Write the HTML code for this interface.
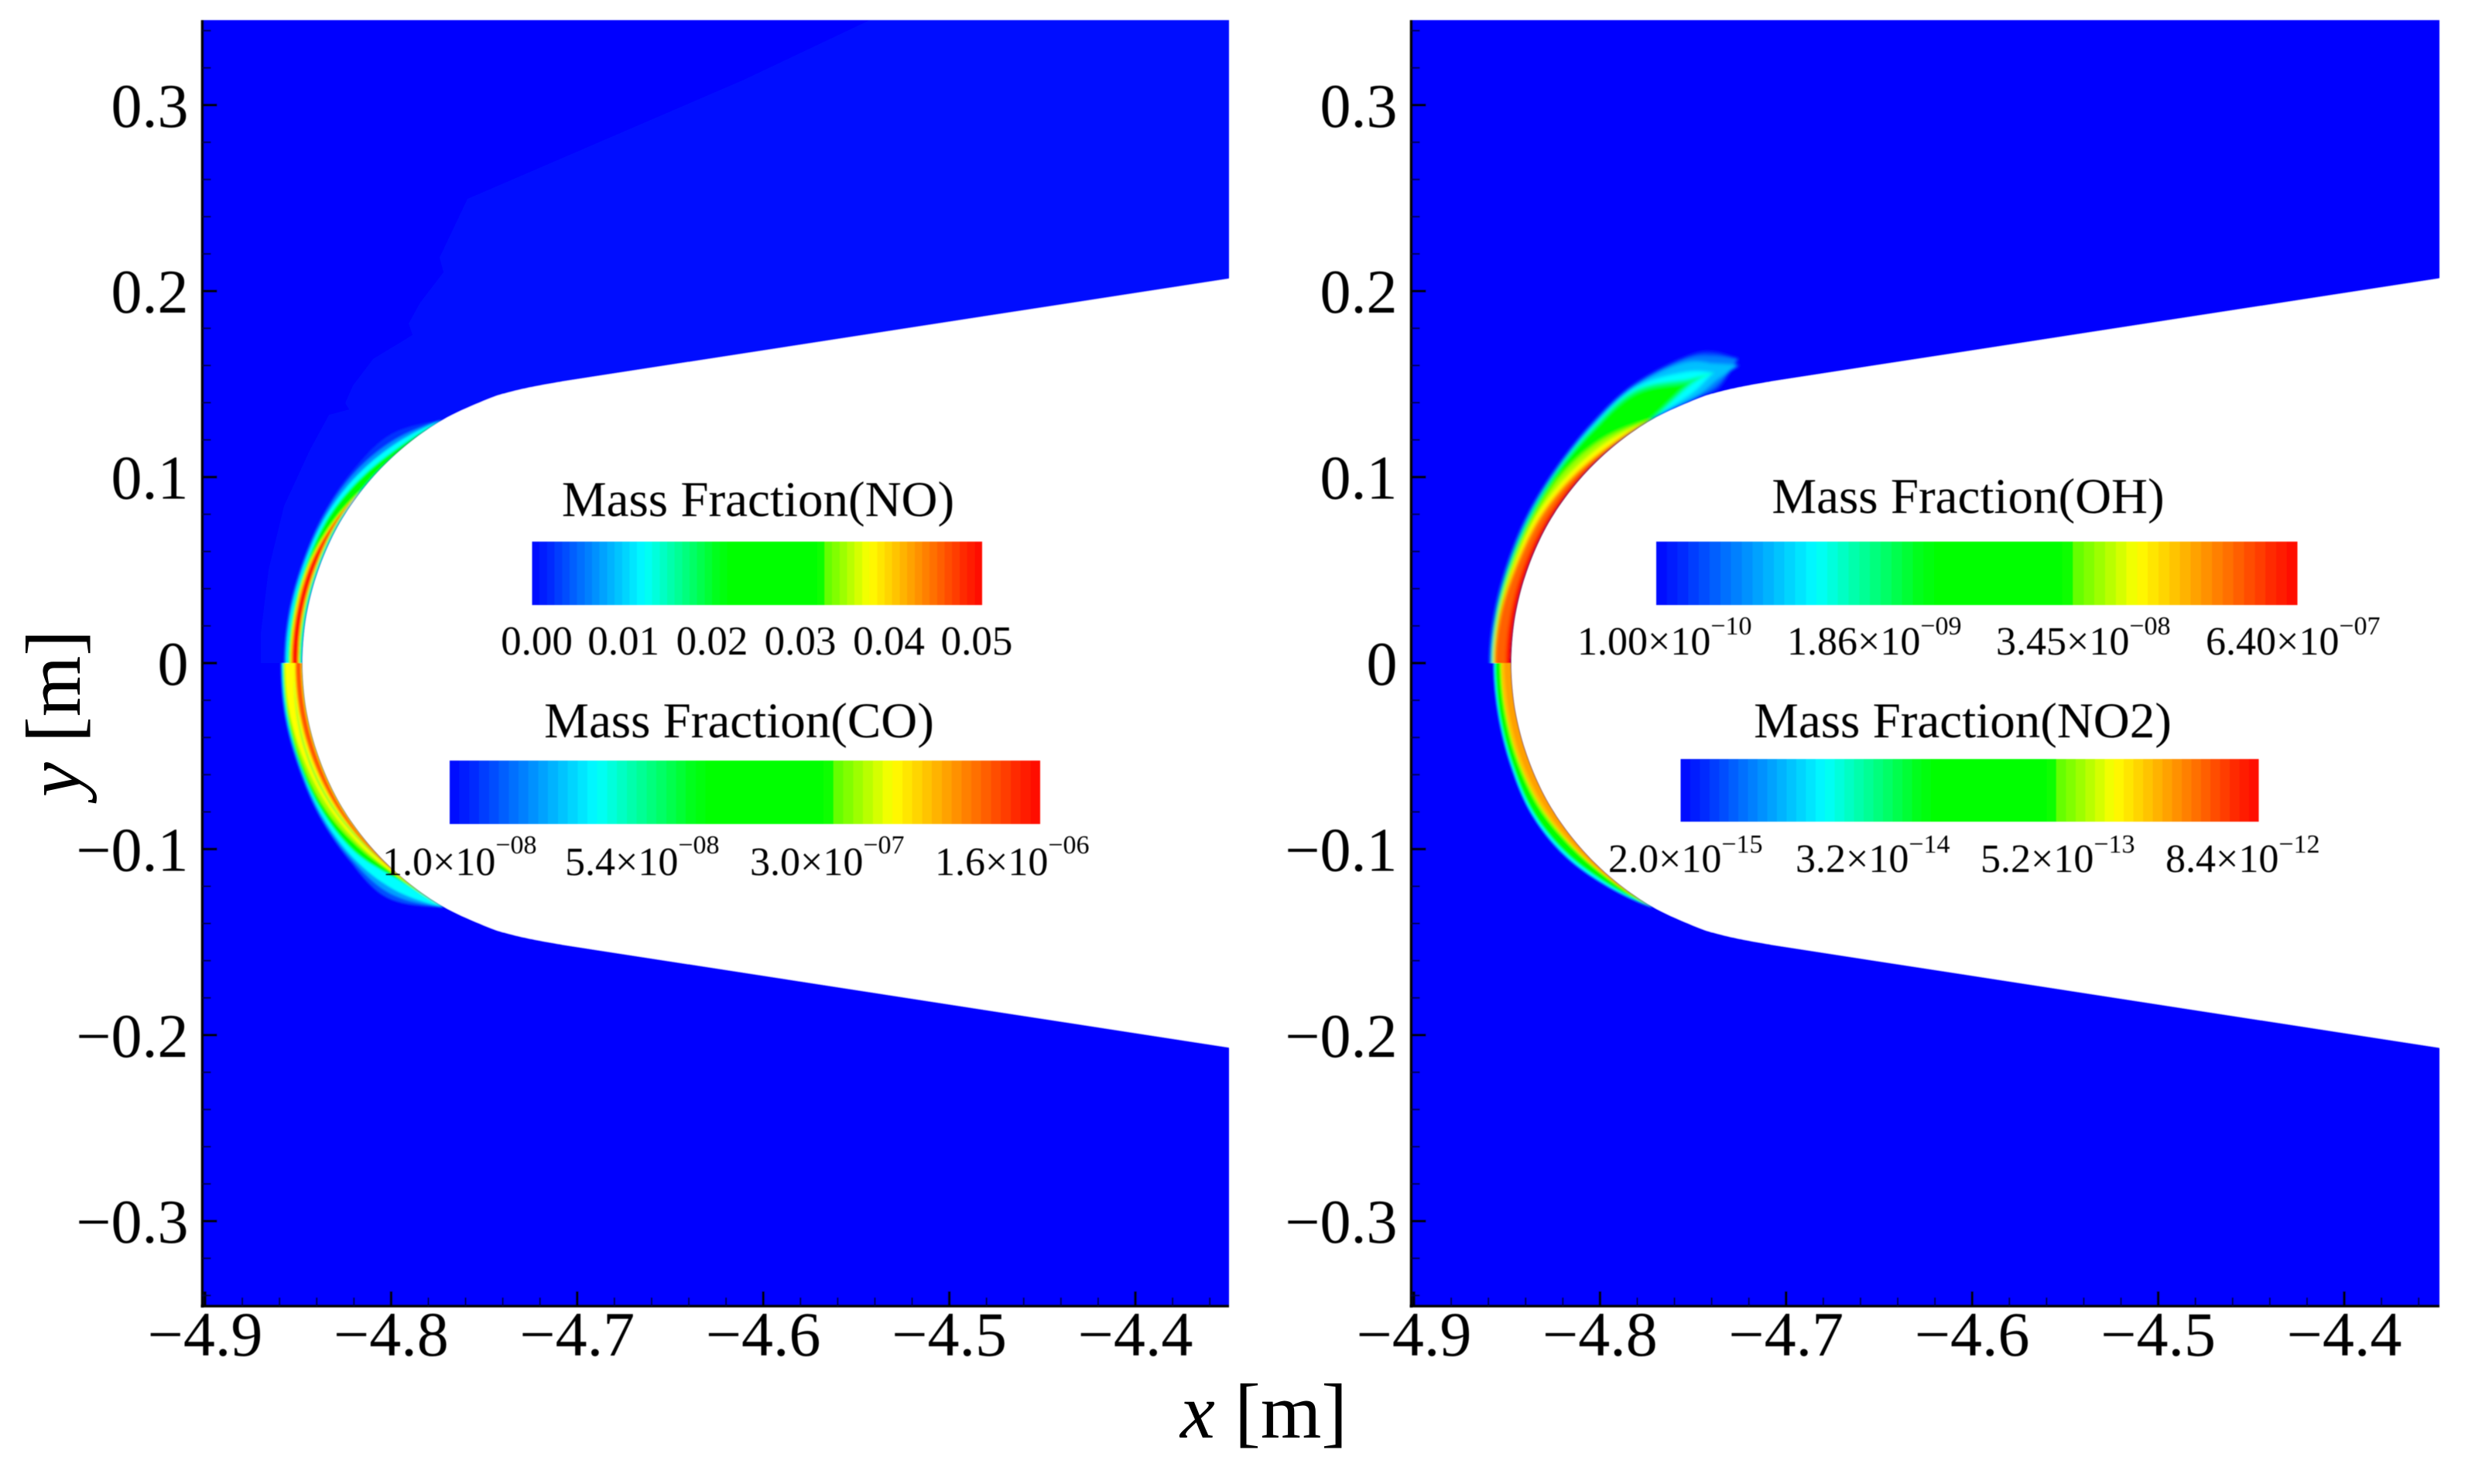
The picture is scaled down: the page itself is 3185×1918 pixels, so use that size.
<!DOCTYPE html>
<html lang="en">
<head>
<meta charset="utf-8">
<title>Mass fraction contours around a blunt body</title>
<style>
html,body{margin:0;padding:0;background:#fff;}
svg{display:block;font-family:"Liberation Serif",serif;fill:#000;}
.x-tick-text{font-size:82px;}
.y-tick-text{font-size:80px;}
.legend-title{font-size:65px;text-anchor:middle;}
.legend-label{font-size:53px;text-anchor:middle;}
.legend-sci{font-size:52px;}
.exp{font-size:34px;}
.axis-title{font-size:101px;}
</style>
</head>
<body>
<svg id="chart" xmlns="http://www.w3.org/2000/svg" width="3185" height="1918" viewBox="0 0 3185 1918">
  <defs>
    <linearGradient id="rainbow"></linearGradient>
    <filter id="bandBlur" filterUnits="userSpaceOnUse" x="0" y="0" width="3185" height="1918"><feGaussianBlur stdDeviation="1.3"/></filter>
    <filter id="bandBlurWide" filterUnits="userSpaceOnUse" x="0" y="0" width="3185" height="1918"><feGaussianBlur stdDeviation="2.2"/></filter>
    <filter id="softBlur" filterUnits="userSpaceOnUse" x="0" y="0" width="3185" height="1918"><feGaussianBlur stdDeviation="0.6"/></filter>
    <clipPath id="clip-left-full"><rect x="263" y="26" width="1325" height="1661"/></clipPath>
    <clipPath id="clip-left-upper"><rect x="263" y="26" width="1325" height="831"/></clipPath>
    <clipPath id="clip-left-lower"><rect x="263" y="857" width="1325" height="830"/></clipPath>
    <clipPath id="clip-right-full"><rect x="1825" y="26" width="1327" height="1661"/></clipPath>
    <clipPath id="clip-right-upper"><rect x="1825" y="26" width="1327" height="831"/></clipPath>
    <clipPath id="clip-right-lower"><rect x="1825" y="857" width="1327" height="830"/></clipPath>
  </defs>

  <g id="plots" filter="url(#softBlur)"></g>

  <g filter="url(#softBlur)">
    <text class="legend-title" x="979.5" y="667">Mass Fraction(NO)</text>
    <rect x="687.5" y="700" width="581.5" height="82" fill="url(#rainbow)"/>
    <text class="legend-label" x="693.5" y="846">0.00</text>
    <text class="legend-label" x="805.6" y="846">0.01</text>
    <text class="legend-label" x="920" y="846">0.02</text>
    <text class="legend-label" x="1034" y="846">0.03</text>
    <text class="legend-label" x="1148.5" y="846">0.04</text>
    <text class="legend-label" x="1262" y="846">0.05</text>
  </g>

  <g filter="url(#softBlur)">
    <text class="legend-title" x="955" y="953">Mass Fraction(CO)</text>
    <rect x="581" y="983" width="763" height="82" fill="url(#rainbow)"/>
    <text class="legend-sci" x="494" y="1131">1.0×10<tspan class="exp" dy="-28">−08</tspan></text>
    <text class="legend-sci" x="730" y="1131">5.4×10<tspan class="exp" dy="-28">−08</tspan></text>
    <text class="legend-sci" x="969" y="1131">3.0×10<tspan class="exp" dy="-28">−07</tspan></text>
    <text class="legend-sci" x="1208" y="1131">1.6×10<tspan class="exp" dy="-28">−06</tspan></text>
  </g>

  <g filter="url(#softBlur)">
    <text class="legend-title" x="2543" y="663">Mass Fraction(OH)</text>
    <rect x="2140" y="700" width="828.5" height="82" fill="url(#rainbow)"/>
    <text class="legend-sci" x="2038" y="846">1.00×10<tspan class="exp" dy="-26">−10</tspan></text>
    <text class="legend-sci" x="2309" y="846">1.86×10<tspan class="exp" dy="-26">−09</tspan></text>
    <text class="legend-sci" x="2579" y="846">3.45×10<tspan class="exp" dy="-26">−08</tspan></text>
    <text class="legend-sci" x="2850" y="846">6.40×10<tspan class="exp" dy="-26">−07</tspan></text>
  </g>

  <g filter="url(#softBlur)">
    <text class="legend-title" x="2536" y="953">Mass Fraction(NO2)</text>
    <rect x="2171.5" y="981" width="747" height="81" fill="url(#rainbow)"/>
    <text class="legend-sci" x="2078" y="1127">2.0×10<tspan class="exp" dy="-25">−15</tspan></text>
    <text class="legend-sci" x="2320" y="1127">3.2×10<tspan class="exp" dy="-25">−14</tspan></text>
    <text class="legend-sci" x="2559" y="1127">5.2×10<tspan class="exp" dy="-25">−13</tspan></text>
    <text class="legend-sci" x="2798" y="1127">8.4×10<tspan class="exp" dy="-25">−12</tspan></text>
  </g>

  <text class="axis-title" x="1525" y="1858"><tspan font-style="italic">x</tspan> [m]</text>
  <text class="axis-title" transform="translate(103,1030) rotate(-90)" x="0" y="0"><tspan font-style="italic">y</tspan> [m]</text>
</svg>

<script>
// ---- axis values ----
const xMajorTicks = [-4.9, -4.8, -4.7, -4.6, -4.5, -4.4];
const xMajorLabels = ['−4.9', '−4.8', '−4.7', '−4.6', '−4.5', '−4.4'];
const xMinorTicks = [-4.88, -4.86, -4.84, -4.82, -4.78, -4.76, -4.74, -4.72, -4.68, -4.66, -4.64, -4.62, -4.58, -4.56, -4.54, -4.52, -4.48, -4.46, -4.44, -4.42, -4.38, -4.36];
const yMajorTicks = [0.3, 0.2, 0.1, 0, -0.1, -0.2, -0.3];
const yMajorLabels = ['0.3', '0.2', '0.1', '0', '−0.1', '−0.2', '−0.3'];
const yMinorTicks = [0.34, 0.32, 0.28, 0.26, 0.24, 0.22, 0.18, 0.16, 0.14, 0.12, 0.08, 0.06, 0.04, 0.02, -0.02, -0.04, -0.06, -0.08, -0.12, -0.14, -0.16, -0.18, -0.22, -0.24, -0.26, -0.28, -0.32, -0.34];

// ---- blunt body surface (metres, upper half; lower half is its mirror) ----
// stations run round the nose: 0,10,20,...,70,75,80 degrees, then the cone start
const surfaceX = [-4.8476, -4.8453, -4.8384, -4.8274, -4.8122, -4.7936, -4.7721, -4.7483, -4.7357, -4.7228, -4.7078];
const surfaceY = [0, 0.0262, 0.0516, 0.0755, 0.0970, 0.1156, 0.1308, 0.1418, 0.1458, 0.1487, 0.1514];
const bodyEndX = -4.3497;
const bodyEndY = 0.2069;

// ---- faint outer edge of the NO wake (metres) ----
const faintX = [-4.5427, -4.6105, -4.7590, -4.7740, -4.7719, -4.7844, -4.7906, -4.7885, -4.8097, -4.8205, -4.8247, -4.8226, -4.8334, -4.8438, -4.8576, -4.8659, -4.8700, -4.8700];
const faintY = [0.3457, 0.3136, 0.2496, 0.2180, 0.2101, 0.1938, 0.1826, 0.1764, 0.1635, 0.1493, 0.1398, 0.1364, 0.1335, 0.1144, 0.0844, 0.0503, 0.0166, 0];

// ---- contour band depth off the surface at each station, unit = 0.416 mm ----
const depthUnit = 0.000416;

const noLevels = ['#0030ff', '#0090ff', '#00ffff', '#00ff00', '#ffff00', '#ff8000', '#ff0000', '#00e8e0'];
const noInner = [
  [0, 0, 0, 0, 0, 0, 0],
  [0, 0, 0, 0, 0, 0, 0],
  [0, 0, 0, 0, 0, 0, 0],
  [0, 0, 0, 0, 0, 0, 0],
  [4.5, 4.5, 4, 3.5, 0, 0, 0],
  [5.5, 5.5, 5, 4, 0, 0, 0],
  [7, 7, 6.5, 5, 0, 0, 0],
  [0, 0, 0, 0, 0, 0, 0]
];
const noOuter = [
  [24.5, 24, 23.5, 25, 26, 24, 0],
  [23, 22.5, 22, 22.5, 22, 15, 0],
  [21, 20.5, 20, 20, 17, 10, 0],
  [18.5, 18, 17.5, 16.5, 11, 4, 0],
  [16, 15.5, 14.5, 8, 0, 0, 0],
  [14.5, 14, 13, 7, 0, 0, 0],
  [12.5, 12, 11, 6, 0, 0, 0],
  [2.5, 2.5, 2.5, 2, 1, 0, 0]
];

const coLevels = ['#0050ff', '#00a0ff', '#00ffff', '#00ff00', '#a0ff00', '#ffff00', '#90ff20', '#ff8000', '#ff5000'];
const coInner = [
  [0, 0, 0, 0, 0, 0, 0],
  [0, 0, 0, 0, 0, 0, 0],
  [0, 0, 0, 0, 0, 0, 0],
  [0, 0, 0, 0, 0, 0, 0],
  [0, 0, 0, 0, 0, 0, 0],
  [0, 0, 0, 0, 0, 0, 0],
  [11, 12, 12, 9, 4, 0, 0],
  [1.5, 1.5, 1.5, 1.5, 1, 0, 0],
  [3, 3, 3, 2.5, 1, 0, 0]
];
const coOuter = [
  [28, 29, 29.5, 31.5, 33, 33, 1.5],
  [27.5, 28, 28, 30, 30, 26, 1],
  [26.5, 27, 27, 28, 27, 19, 1],
  [25.5, 26, 26.5, 25, 20, 5, 0.5],
  [24, 24, 23, 20, 12, 2, 0],
  [22.5, 22, 19, 15, 9, 2, 0],
  [11, 14, 15, 12, 6, 0, 0],
  [9.5, 9.5, 9, 7, 4, 0.5, 0],
  [7.5, 7.5, 7, 5, 2, 0, 0]
];

const ohLevels = ['#0040ff', '#0080ff', '#00c0ff', '#00ffff', '#00ff80', '#00ff00', '#a0ff00', '#ffff00', '#ff8000', '#ff6000', '#ff0000'];
const ohInner = [
  [0, 0, 0, 0, 0, 0, 0, 1, 5, 36],
  [0, 0, 0, 0, 0, 0, 0, 2, 10, 36],
  [0, 0, 0, 0, 0, 0, 0, 3, 16, 28],
  [0, 0, 0, 0, 0, 0, 0, 10, 26, 26],
  [0, 0, 0, 0, 0, 0, 0, 20, 26, 26],
  [0, 0, 0, 0, 0, 0, 2, 23, 24, 24],
  [0, 0, 0, 0, 0, 0, 0],
  [0, 0, 0, 0, 0, 0, 0],
  [0, 0, 0, 0, 0, 0, 0],
  [0, 0, 0, 0, 0, 0, 0],
  [0, 0, 0, 0, 0, 0, 0]
];
const ohOuter = [
  [28, 27, 27, 29, 33, 41, 51, 56, 54, 37],
  [27.5, 26.5, 26.5, 28.5, 32.5, 40, 50, 54, 48, 36],
  [27, 26, 26, 28, 32, 39, 48.5, 50, 38, 28],
  [26.5, 25.5, 25.5, 27.5, 31.5, 38, 47, 38, 26, 26],
  [25.5, 25, 25, 26.5, 30.5, 36, 44, 28, 26, 26],
  [25, 24.5, 24, 25.5, 29.5, 34, 40, 23, 24, 24],
  [23.5, 22, 20.5, 21, 22, 16, 0],
  [23, 21, 19, 18.5, 15, 10, 0],
  [22, 20, 16, 14, 10, 4.5, 0],
  [21, 18, 13, 10, 7, 3, 0],
  [7, 6.5, 6, 5, 4, 1.5, 0]
];

const no2Levels = ['#0070ff', '#00ffff', '#00ff00', '#a0ff00', '#ffc000', '#ffa000'];
const no2Inner = [
  [0, 0, 0, 0, 0, 0, 0],
  [0, 0, 0, 0, 0, 0, 0],
  [0, 0, 0, 0, 0, 0, 0],
  [0, 0, 0, 0, 0, 0, 0],
  [0, 0, 0, 0, 0, 0, 0],
  [0, 0, 0, 0, 0, 0, 0]
];
const no2Outer = [
  [23.5, 23.5, 25, 27, 23.5, 13, 1.5],
  [22.5, 22.5, 24, 26, 22, 12, 1],
  [21, 21, 22, 23.5, 19, 9.5, 0.5],
  [14.5, 14.5, 15, 14, 9, 3.5, 0],
  [13, 12.5, 12.5, 11, 7, 3, 0],
  [9, 8.5, 8.5, 7, 4.5, 1.5, 0]
];

// ---- colormap ----
const colormapPositions = [0, 0.25, 0.43, 0.64, 0.655, 0.75, 0.875, 1];
const colormapColors = [[0,0,255], [0,255,255], [0,255,0], [0,255,0], [96,255,0], [255,255,0], [255,128,0], [255,0,0]];
const colormapSteps = 60;

// ---- axis functions ----
const SVGNS = 'http://www.w3.org/2000/svg';
const PX_PER_M = 2404;
const Y_ZERO = 857;
const xOriginLeft = 265;
const xOriginRight = 1827;
function xScale(v, origin) { return origin + (v + 4.9) * PX_PER_M; }
function yScale(v) { return Y_ZERO - v * PX_PER_M; }
function depthPx(d) { return yScale(0) - yScale(d * depthUnit); }

function mk(tag, parent, attrs) {
  const el = document.createElementNS(SVGNS, tag);
  for (const k in attrs) el.setAttribute(k, attrs[k]);
  parent.appendChild(el);
  return el;
}

// smooth sampling between stations (render-only curve smoothing)
const SUB = 10;
function cr(a, b, c, d, t) {
  return 0.5 * (2 * b + (c - a) * t + (2 * a - 5 * b + 4 * c - d) * t * t + (3 * b - a - 3 * c + d) * t * t * t);
}
function sample(vals, ghost) {
  const n = vals.length, out = [];
  const at = i => i < 0 ? ghost : i >= n ? 2 * vals[n - 1] - vals[n - 2] : vals[i];
  for (let i = 0; i < n - 1; i++) {
    for (let j = 0; j < SUB; j++) {
      out.push(cr(at(i - 1), at(i), at(i + 1), at(i + 2), j / SUB));
    }
  }
  out.push(vals[n - 1]);
  return out;
}

function surfaceDense(origin) {
  const px = surfaceX.map(v => xScale(v, origin));
  const py = surfaceY.map(yScale);
  const dx = sample(px, px[1]);
  const dy = sample(py, 2 * Y_ZERO - py[1]);
  const nx = [], ny = [];
  for (let i = 0; i < dx.length; i++) {
    let tx, ty;
    if (i === 0) { tx = 0; ty = -1; }
    else {
      const a = Math.max(i - 1, 0), b = Math.min(i + 1, dx.length - 1);
      tx = dx[b] - dx[a]; ty = dy[b] - dy[a];
    }
    const len = Math.hypot(tx, ty) || 1;
    nx.push(ty / len);
    ny.push(-tx / len);
  }
  return { dx, dy, nx, ny };
}

function ribbonPath(surf, inner, outer, mirror) {
  const inn = sample(inner, inner[1]).map(v => Math.max(0, v));
  const out = sample(outer, outer[1]).map(v => Math.max(0, v));
  const count = out.length;
  const fy = y => mirror ? 2 * Y_ZERO - y : y;
  const seam = mirror ? -14 : 14;
  const pts = [];
  pts.push([surf.dx[0] + surf.nx[0] * depthPx(out[0]), fy(surf.dy[0]) + seam]);
  for (let i = 0; i < count; i++) {
    const d = Math.max(depthPx(out[i]), depthPx(inn[i]));
    pts.push([surf.dx[i] + surf.nx[i] * d, fy(surf.dy[i] + surf.ny[i] * d)]);
  }
  for (let i = count - 1; i >= 0; i--) {
    const d = depthPx(inn[i]);
    pts.push([surf.dx[i] + surf.nx[i] * d, fy(surf.dy[i] + surf.ny[i] * d)]);
  }
  pts.push([surf.dx[0] + surf.nx[0] * depthPx(inn[0]), fy(surf.dy[0]) + seam]);
  return 'M' + pts.map(p => p[0].toFixed(1) + ' ' + p[1].toFixed(1)).join('L') + 'Z';
}

function drawField(parent, surf, fieldName, clipId, mirror, levels, inner, outer, blurId) {
  const clip = mk('g', parent, { 'clip-path': 'url(#' + clipId + ')' });
  
  
  const g = mk('g', clip, { filter: 'url(#' + blurId + ')' });
  
  
  levels.forEach((color, i) => {
    const band = mk('path', g, { d: ribbonPath(surf, inner[i], outer[i], mirror), fill: color });
    
    
  });
}

function drawBody(parent, surf, origin) {
  const endX = xScale(bodyEndX, origin) + 4;
  const upper = surf.dx.map((x, i) => [x, surf.dy[i]]);
  upper.push([endX, yScale(bodyEndY)]);
  const lower = upper.slice().reverse().map(p => [p[0], 2 * Y_ZERO - p[1]]);
  const pts = lower.concat(upper.slice(1));
  const d = 'M' + pts.map(p => p[0].toFixed(1) + ' ' + p[1].toFixed(1)).join('L') + 'Z';
  const body = mk('path', parent, { d: d, fill: '#ffffff' });
  
  
}

function drawAxes(parent, origin, axisX, rightX, panelName) {
  const axisBottom = 1688;
  const left = mk('line', parent, { x1: axisX, x2: axisX, y1: 26, y2: axisBottom + 2, stroke: '#000', 'stroke-width': 3.6 });
  
  
  const bottom = mk('line', parent, { x1: axisX - 2, x2: rightX, y1: axisBottom, y2: axisBottom, stroke: '#000', 'stroke-width': 3.6 });
  
  

  xMinorTicks.forEach(v => {
    const x = xScale(v, origin);
    const t = mk('line', parent, { x1: x, x2: x, y1: axisBottom, y2: axisBottom - 11, stroke: '#000040', 'stroke-width': 2 });
    
    
  });
  xMajorTicks.forEach((v, i) => {
    const x = xScale(v, origin);
    const t = mk('line', parent, { x1: x, x2: x, y1: axisBottom, y2: axisBottom - 19, stroke: '#000', 'stroke-width': 3.4 });
    
    
    const label = mk('text', parent, { x: x, y: 1752, 'text-anchor': 'middle', 'class': 'x-tick-text' });
    
    
    label.textContent = xMajorLabels[i];
  });
  yMinorTicks.forEach(v => {
    const y = yScale(v);
    const t = mk('line', parent, { x1: axisX, x2: axisX + 11, y1: y, y2: y, stroke: '#000040', 'stroke-width': 2 });
    
    
  });
  yMajorTicks.forEach((v, i) => {
    const y = yScale(v);
    const t = mk('line', parent, { x1: axisX, x2: axisX + 19, y1: y, y2: y, stroke: '#000', 'stroke-width': 3.4 });
    
    
    const label = mk('text', parent, { x: axisX - 18, y: y + 28, 'text-anchor': 'end', 'class': 'y-tick-text' });
    
    
    label.textContent = yMajorLabels[i];
  });
}

function drawPanel(panelName, origin, panelX, panelRight, clipFull, clipUpper, clipLower, upperName, lowerName, upperFields, lowerFields, faint, upperBlur) {
  const root = document.getElementById('plots');
  const panel = mk('g', root, {});
  
  
  const bg = mk('rect', panel, { x: panelX, y: 26, width: panelRight - panelX, height: 1661, fill: '#0000ff' });
  
  

  if (faint) {
    const pts = faintX.map((v, i) => [xScale(v, origin), yScale(faintY[i])]);
    pts.push([xScale(bodyEndX, origin), yScale(0)]);
    pts.push([xScale(bodyEndX, origin), yScale(faintY[0])]);
    const wake = mk('path', panel, {
      d: 'M' + pts.map(p => p[0].toFixed(1) + ' ' + p[1].toFixed(1)).join('L') + 'Z',
      fill: '#000bff',
      'clip-path': 'url(#' + clipFull + ')'
    });
    
    
  }

  const surf = surfaceDense(origin);
  drawField(panel, surf, upperName, clipUpper, false, upperFields[0], upperFields[1], upperFields[2], upperBlur);
  drawField(panel, surf, lowerName, clipLower, true, lowerFields[0], lowerFields[1], lowerFields[2], 'bandBlur');
  drawBody(panel, surf, origin);
  drawAxes(panel, origin, panelX - 1.5, panelRight, panelName);
}

function buildColormap() {
  const grad = document.getElementById('rainbow');
  const colorAt = f => {
    let i = 0;
    while (i < colormapPositions.length - 2 && f > colormapPositions[i + 1]) i++;
    const t = (f - colormapPositions[i]) / (colormapPositions[i + 1] - colormapPositions[i]);
    const a = colormapColors[i], b = colormapColors[i + 1];
    return 'rgb(' + a.map((c, k) => Math.round(c + (b[k] - c) * t)).join(',') + ')';
  };
  for (let s = 0; s < colormapSteps; s++) {
    const c = colorAt((s + 0.5) / colormapSteps);
    mk('stop', grad, { offset: s / colormapSteps, 'stop-color': c });
    mk('stop', grad, { offset: (s + 1) / colormapSteps, 'stop-color': c });
  }
}

buildColormap();
drawPanel('left', xOriginLeft, 263, 1588, 'clip-left-full', 'clip-left-upper', 'clip-left-lower', 'no', 'co',
  [noLevels, noInner, noOuter], [coLevels, coInner, coOuter], true, 'bandBlur');
drawPanel('right', xOriginRight, 1825, 3152, 'clip-right-full', 'clip-right-upper', 'clip-right-lower', 'oh', 'no2',
  [ohLevels, ohInner, ohOuter], [no2Levels, no2Inner, no2Outer], false, 'bandBlurWide');
</script>
</body>
</html>
